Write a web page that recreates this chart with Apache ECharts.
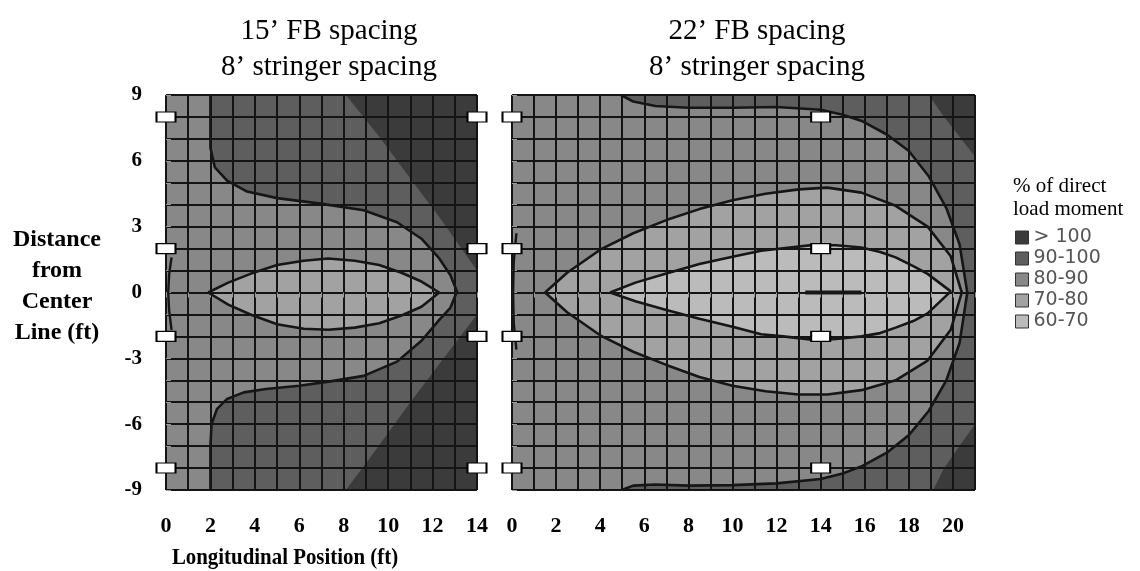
<!DOCTYPE html>
<html>
<head>
<meta charset="utf-8">
<script src="https://cdn.jsdelivr.net/npm/echarts@6/dist/echarts.min.js"></script>
<style>
html,body{margin:0;padding:0;background:#fff;}
#chart{width:1140px;height:571px;}
</style>
</head>
<body>
<div id="chart"></div>
<script>
// ---------- data ----------
const levelNames = ['> 100', '90-100', '80-90', '70-80', '60-70'];
const levelColors = ['#3b3b3b', '#5e5e5e', '#888888', '#a2a2a2', '#bbbbbb'];

const panelTitles = ['15’ FB spacing\n8’ stringer spacing', '22’ FB spacing\n8’ stringer spacing'];
const panelLengths = [14, 21];          // longitudinal extent (ft)
const halfWidth = 9;                    // distance from centre line (ft)

// Left panel (15' FB spacing) contour boundaries, [x ft, y ft]
const leftField = [[0, -9], [14, -9], [14, 9], [0, 9]];
const leftDarkCurve = [[2.0, 9], [2.0, 7.8], [2.0, 6.6], [2.2, 5.7], [2.75, 5.1], [3.65, 4.6], [5.0, 4.3], [6.95, 4.05], [8.9, 3.75], [10.4, 3.2], [11.5, 2.45], [12.3, 1.55], [12.8, 0.8], [13.1, 0.05], [12.8, -0.7], [12.3, -1.25], [11.5, -2.2], [10.4, -3.15], [8.9, -3.8], [7.4, -4.05], [6.0, -4.25], [4.5, -4.4], [3.5, -4.55], [2.75, -4.85], [2.3, -5.3], [2.05, -6.0], [2.0, -7.0], [2.0, -9]];
const leftDarkClose = [[14, -9], [14, 9]];
const leftTopDiag = [[8.1, 9], [9.6, 7.1], [11.0, 5.2], [12.4, 3.3], [13.3, 2.0], [14, 1.0]];
const leftTopClose = [[14, 9]];
const leftBottomDiag = [[14, -1.0], [12.5, -3.0], [11.0, -5.0], [9.5, -7.1], [8.1, -9]];
const leftBottomClose = [[14, -9]];
const leftEllipse = [[1.9, 0], [2.8, 0.45], [3.8, 0.85], [5.0, 1.25], [6.2, 1.45], [7.3, 1.55], [8.5, 1.45], [9.6, 1.25], [10.6, 0.9], [11.5, 0.5], [12.3, 0], [11.5, -0.65], [10.6, -1.05], [9.6, -1.4], [8.5, -1.6], [7.3, -1.7], [6.2, -1.65], [5.0, -1.45], [3.8, -1.0], [2.8, -0.55], [1.9, 0]];
const leftEdgeTrace = [[0.25, 1.6], [0.14, 0.8], [0.1, 0], [0.14, -0.8], [0.25, -1.7]];

// Right panel (22' FB spacing) contour boundaries
const rightField = [[0, -9], [21, -9], [21, 9], [0, 9]];
const rightArc = [[4.95, 9], [5.5, 8.7], [6.5, 8.5], [8.0, 8.42], [10.0, 8.42], [12.0, 8.45], [14.0, 8.33], [15.0, 8.1], [15.9, 7.8], [17.0, 7.2], [18.0, 6.45], [18.9, 5.3], [19.7, 3.85], [20.3, 2.2], [20.65, 0], [20.3, -2.3], [19.7, -4.0], [18.9, -5.4], [18.0, -6.5], [17.0, -7.3], [15.9, -7.9], [15.0, -8.25], [14.0, -8.5], [12.0, -8.7], [10.0, -8.78], [8.0, -8.8], [6.5, -8.75], [5.5, -8.8], [4.97, -9]];
const rightArcClose = [[21, -9], [21, 9]];
const rightTopDiag = [[18.9, 9], [19.6, 8.0], [20.3, 7.1], [21, 6.2]];
const rightTopClose = [[21, 9]];
const rightBottomDiag = [[21, -6.0], [20.3, -7.0], [19.6, -8.0], [19.1, -9]];
const rightBottomClose = [[21, -9]];
const rightOuter = [[1.5, 0], [2.5, 0.9], [4.0, 1.95], [5.5, 2.7], [7.0, 3.3], [8.5, 3.8], [10.0, 4.2], [11.5, 4.5], [13.0, 4.7], [14.3, 4.78], [15.85, 4.55], [17.4, 3.95], [18.85, 3.0], [19.9, 1.65], [20.4, 0], [19.9, -1.7], [18.85, -3.1], [17.4, -4.0], [15.85, -4.45], [14.3, -4.65], [13.0, -4.65], [11.5, -4.5], [10.0, -4.25], [8.5, -3.85], [7.0, -3.3], [5.5, -2.7], [4.0, -1.95], [2.5, -0.9], [1.5, 0]];
const rightInner = [[4.45, 0], [5.6, 0.45], [7.0, 0.87], [8.5, 1.3], [10.0, 1.63], [11.3, 1.9], [12.3, 2.02], [13.6, 2.16], [14.7, 2.15], [15.85, 2.05], [16.7, 1.85], [17.4, 1.6], [18.2, 1.2], [18.85, 0.85], [19.9, 0.05], [18.85, -0.95], [18.2, -1.3], [17.4, -1.6], [16.7, -1.85], [15.85, -2.0], [14.7, -2.12], [13.8, -2.17], [12.3, -2.0], [11.3, -1.9], [10.0, -1.56], [8.5, -1.2], [7.0, -0.8], [5.6, -0.4], [4.45, 0]];
const rightEdgeTrace = [[0.2, 2.7], [0.08, 1.4], [0.05, 0], [0.08, -1.4], [0.2, -2.6]];
const rightStreak = [[13.3, 0], [14.5, 0], [15.85, 0]];

// Gauge (stringer) positions: [x ft, y ft]
const leftGauges = [[0, 8], [0, 2], [0, -2], [0, -8], [14, 8], [14, 2], [14, -2], [14, -8]];
const rightGauges = [[0, 8], [0, 2], [0, -2], [0, -8], [14, 8], [14, 2], [14, -2], [14, -8]];

// ---------- build ----------
// regions in painting order: [level index, polygon]
const panels = [
  {
    regions: [
      [2, leftField],
      [1, leftDarkCurve.concat(leftDarkClose)],
      [0, leftTopDiag.concat(leftTopClose)],
      [0, leftBottomDiag.concat(leftBottomClose)],
      [3, leftEllipse]
    ],
    lines: [[leftDarkCurve, 2.6], [leftEllipse, 2.6], [leftEdgeTrace, 2.4]],
    gauges: leftGauges
  },
  {
    regions: [
      [2, rightField],
      [1, rightArc.concat(rightArcClose)],
      [0, rightTopDiag.concat(rightTopClose)],
      [0, rightBottomDiag.concat(rightBottomClose)],
      [3, rightOuter],
      [4, rightInner]
    ],
    lines: [[rightArc, 2.6], [rightOuter, 2.6], [rightInner, 2.6], [rightEdgeTrace, 2.4], [rightStreak, 4]],
    gauges: rightGauges
  }
];

const grids = [
  {left: 166, top: 95, width: 311, height: 395},
  {left: 512, top: 95, width: 463, height: 395}
];

const serif = '"Liberation Serif", "Times New Roman", serif';
const gridLineColor = '#141414';

const xAxes = [], yAxes = [], series = [];
panels.forEach((p, g) => {
  const xmax = panelLengths[g];
  // fine (1 ft) mesh axis
  xAxes.push({
    gridIndex: g, type: 'value', min: 0, max: xmax, interval: 1, position: 'bottom', z: 3,
    axisLine: {show: false}, axisLabel: {show: false},
    axisTick: {show: true, length: 5, lineStyle: {color: '#9a9a9a', width: 1}},
    splitLine: {show: true, lineStyle: {color: gridLineColor, width: 2}}
  });
  // labelled axis (every 2 ft)
  xAxes.push({
    gridIndex: g, type: 'value', min: 0, max: xmax, interval: 2, position: 'bottom',
    axisLine: {show: false}, axisTick: {show: false}, splitLine: {show: false},
    axisLabel: {show: true, margin: 25, showMaxLabel: xmax % 2 === 0, fontFamily: serif, fontWeight: 'bold', fontSize: 22, color: '#000'}
  });
  yAxes.push({
    gridIndex: g, type: 'value', min: -halfWidth, max: halfWidth, interval: 1, position: 'right', z: 3,
    axisLine: {show: false}, axisLabel: {show: false},
    axisTick: {show: true, length: 5, lineStyle: {color: '#9a9a9a', width: 1}},
    splitLine: {show: true, lineStyle: {color: gridLineColor, width: 2}}
  });
  yAxes.push({
    gridIndex: g, type: 'value', min: -halfWidth, max: halfWidth, interval: 3, position: 'left',
    axisLine: {show: false}, axisTick: {show: false}, splitLine: {show: false},
    axisLabel: {show: g === 0, margin: 24, fontFamily: serif, fontWeight: 'bold', fontSize: 21, color: '#000'}
  });

  p.regions.forEach((r) => {
    const level = r[0], poly = r[1];
    series.push({
      type: 'custom', name: levelNames[level], coordinateSystem: 'cartesian2d',
      xAxisIndex: g * 2, yAxisIndex: g * 2, z: 1, silent: true,
      itemStyle: {color: levelColors[level]},
      data: [[0, 0]],
      renderItem: (params, api) => ({
        type: 'polygon',
        shape: {points: poly.map(pt => api.coord(pt))},
        style: {fill: levelColors[level]}
      })
    });
  });
  p.lines.forEach((l) => {
    series.push({
      type: 'line', xAxisIndex: g * 2, yAxisIndex: g * 2, z: 5, silent: true,
      data: l[0], symbol: 'none', smooth: false,
      lineStyle: {color: '#161616', width: l[1]}
    });
  });
  series.push({
    type: 'scatter', xAxisIndex: g * 2, yAxisIndex: g * 2, z: 10, silent: true, clip: false,
    data: p.gauges, symbol: 'rect', symbolSize: [19, 10],
    itemStyle: {color: '#ffffff', borderColor: '#000', borderWidth: 1.5, opacity: 1}
  });
});

const chart = echarts.init(document.getElementById('chart'), null, {renderer: 'canvas'});
chart.setOption({
  animation: false,
  backgroundColor: '#fff',
  grid: grids,
  xAxis: xAxes,
  yAxis: yAxes,
  legend: {
    data: levelNames, orient: 'vertical', left: 1015, top: 228, padding: 0,
    itemWidth: 13, itemHeight: 13, itemGap: 2, icon: 'rect', selectedMode: false,
    itemStyle: {borderColor: '#333', borderWidth: 1},
    textStyle: {fontFamily: '"DejaVu Sans", sans-serif', fontSize: 19, color: '#555'}
  },
  graphic: [
    {type: 'text', x: 329, y: 13, silent: true,
     style: {text: panelTitles[0], font: '29px ' + serif, align: 'center', verticalAlign: 'top', lineHeight: 36, fill: '#000'}},
    {type: 'text', x: 757, y: 13, silent: true,
     style: {text: panelTitles[1], font: '29px ' + serif, align: 'center', verticalAlign: 'top', lineHeight: 36, fill: '#000'}},
    {type: 'text', x: 57, y: 286, silent: true,
     style: {text: 'Distance\nfrom\nCenter\nLine (ft)', font: 'bold 24px ' + serif, align: 'center', verticalAlign: 'middle', lineHeight: 31, fill: '#000'}},
    {type: 'text', x: 285, y: 558, scaleX: 0.87, silent: true,
     style: {text: 'Longitudinal Position (ft)', font: 'bold 24px ' + serif, align: 'center', verticalAlign: 'middle', fill: '#000'}},
    {type: 'text', x: 1013, y: 175, silent: true,
     style: {text: '% of direct\nload moment', font: '21px ' + serif, align: 'left', verticalAlign: 'top', lineHeight: 23, fill: '#000'}}
  ],
  series: series
});
</script>
</body>
</html>
